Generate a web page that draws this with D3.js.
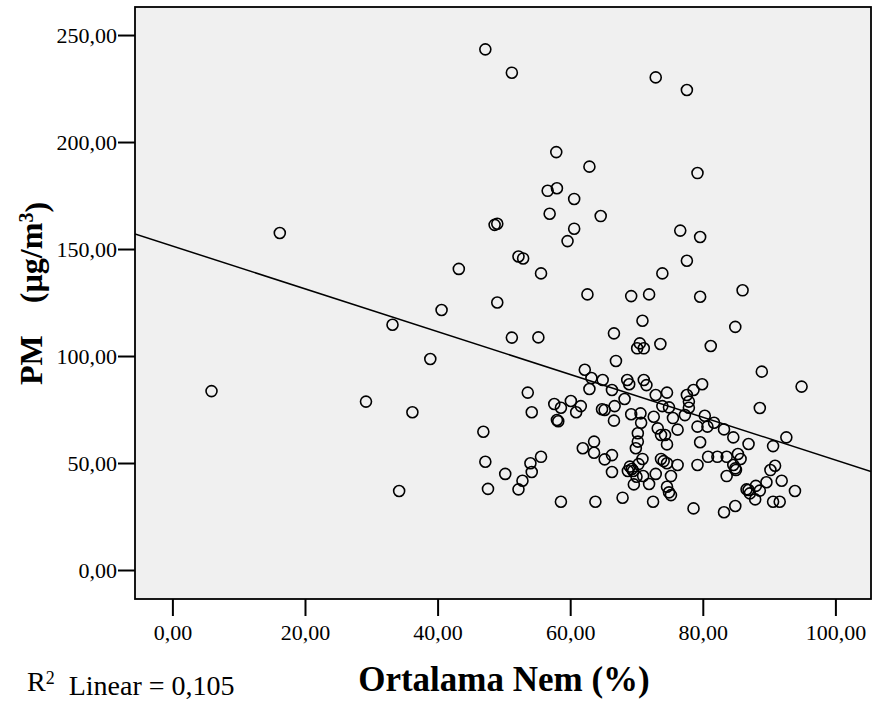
<!DOCTYPE html>
<html>
<head>
<meta charset="utf-8">
<script src="https://cdn.jsdelivr.net/npm/d3@7"></script>
<style>
  html, body { margin: 0; padding: 0; background: #ffffff; }
  svg { display: block; }
</style>
</head>
<body>
<svg id="chart" width="872" height="701"></svg>
<script>
// ---- data ----
const humidity = [
  47.2, 51.2, 16.2, 48.6, 49.0, 52.2, 52.9, 43.2, 49.0, 72.9,
  77.6, 57.9, 62.9, 79.2, 56.6, 58.0, 60.6, 56.9, 64.6, 60.6,
  59.6, 76.6, 79.6, 55.6, 77.6, 73.9, 62.6, 69.2, 71.9, 79.6,
  86.0, 33.2, 40.6, 51.2, 38.9, 5.9, 29.2, 36.2, 46.9, 47.2,
  50.2, 34.2, 47.6, 52.2, 52.8, 70.9, 84.9, 55.2, 66.6, 70.5,
  70.1, 71.1, 73.6, 81.2, 66.9, 62.2, 63.2, 64.9, 62.9, 66.3,
  68.6, 68.9, 71.1, 71.5, 88.9, 94.9, 53.6, 54.2, 57.6, 58.6,
  60.1, 61.6, 60.9, 58.0, 58.2, 64.8, 65.2, 66.7, 68.2, 66.6,
  72.9, 74.6, 73.9, 74.9, 69.2, 70.6, 70.7, 72.6, 75.5, 77.3,
  77.6, 78.6, 79.9, 77.9, 77.9, 88.6, 80.3, 81.7, 80.7, 79.2,
  83.2, 84.6, 86.9, 90.6, 92.6, 76.2, 73.2, 73.7, 74.3, 74.6,
  79.6, 70.2, 70.2, 69.9, 70.9, 70.3, 69.0, 69.3, 68.7, 69.5,
  70.0, 69.6, 71.0, 71.9, 72.9, 73.7, 74.1, 74.6, 76.2, 75.2,
  74.6, 74.9, 75.2, 72.5, 67.9, 63.8, 58.6, 78.6, 83.2, 84.9,
  79.2, 80.8, 82.2, 83.6, 85.3, 85.7, 84.6, 84.9, 85.0, 83.6,
  86.6, 87.1, 86.9, 88.0, 88.6, 87.9, 89.6, 90.6, 91.6, 91.9,
  93.9, 90.2, 90.9, 54.2, 54.0, 55.6, 61.9, 63.6, 63.6, 65.2,
  66.3, 66.3
];
const pm = [
  243.3, 232.4, 157.5, 161.3, 161.8, 146.5, 145.6, 140.7, 125.0, 230.2,
  224.3, 195.3, 188.5, 185.5, 177.2, 178.4, 173.4, 166.5, 165.4, 159.5,
  153.7, 158.6, 155.6, 138.6, 144.5, 138.6, 128.8, 128.0, 128.8, 127.7,
  130.7, 114.6, 121.5, 108.6, 98.6, 83.6, 78.7, 73.7, 64.6, 50.6,
  44.9, 36.9, 37.9, 37.7, 41.7, 116.5, 113.6, 108.7, 110.6, 105.9,
  103.6, 103.6, 105.6, 104.7, 97.7, 93.6, 89.7, 88.8, 84.6, 84.1,
  88.8, 86.8, 88.8, 86.4, 92.7, 85.7, 82.9, 73.7, 77.6, 75.8,
  79.0, 76.6, 73.7, 70.1, 69.5, 75.1, 74.8, 76.6, 79.9, 69.8,
  81.8, 82.9, 76.6, 76.0, 72.8, 73.2, 68.8, 71.6, 71.0, 72.4,
  81.8, 84.1, 86.8, 78.7, 75.8, 75.7, 72.1, 68.8, 67.0, 67.0,
  65.7, 62.0, 58.9, 57.9, 62.0, 65.6, 66.2, 63.1, 63.1, 58.7,
  59.7, 63.9, 60.0, 56.9, 51.9, 49.5, 48.3, 47.2, 46.3, 46.3,
  43.6, 40.0, 43.9, 40.2, 44.9, 51.9, 50.9, 49.9, 49.1, 43.9,
  38.9, 36.3, 35.0, 31.9, 33.8, 31.9, 31.9, 28.8, 27.0, 29.9,
  49.1, 52.9, 52.9, 52.9, 54.2, 51.9, 49.1, 47.5, 46.7, 43.9,
  37.7, 35.8, 37.4, 39.3, 37.1, 33.0, 41.0, 31.9, 31.9, 41.7,
  36.9, 46.7, 48.7, 45.8, 49.9, 52.9, 56.9, 60.0, 54.8, 51.7,
  53.7, 45.8
];
const xTicks = [0, 20, 40, 60, 80, 100];
const yTicks = [0, 50, 100, 150, 200, 250];
const xDomain = [-5.64, 105.37];
const yDomain = [-13.55, 263.1];
const fitIntercept = 151.4;
const fitSlope = -1.0;
const r2Text = "0,105";
const xTitle = "Ortalama Nem (%)";

const SERIF = '"Liberation Serif", "Times New Roman", Times, serif';

// ---- layout ----
const svg = d3.select("#chart");
const plot = { left: 135, top: 7, right: 871, bottom: 599 };

const x = d3.scaleLinear().domain(xDomain).range([plot.left, plot.right]);
const y = d3.scaleLinear().domain(yDomain).range([plot.bottom, plot.top]);
const fmt = v => d3.format(".2f")(v).replace(".", ",");

// background frame
svg.append("rect")
  .attr("x", plot.left).attr("y", plot.top)
  .attr("width", plot.right - plot.left).attr("height", plot.bottom - plot.top)
  .attr("fill", "#f0f0f0").attr("stroke", "none");

svg.append("clipPath").attr("id", "clip")
  .append("rect")
  .attr("x", plot.left).attr("y", plot.top)
  .attr("width", plot.right - plot.left).attr("height", plot.bottom - plot.top);

const g = svg.append("g").attr("clip-path", "url(#clip)");

// regression line
g.append("line")
  .attr("x1", x(xDomain[0])).attr("y1", y(fitIntercept + fitSlope * xDomain[0]))
  .attr("x2", x(xDomain[1])).attr("y2", y(fitIntercept + fitSlope * xDomain[1]))
  .attr("stroke", "#000").attr("stroke-width", 1.5);

// points
const pts = humidity.map((h, i) => ({ h, p: pm[i] }));
g.selectAll("circle").data(pts).enter().append("circle")
  .attr("cx", d => x(d.h)).attr("cy", d => y(d.p))
  .attr("r", 5.5)
  .attr("fill", "none").attr("stroke", "#000").attr("stroke-width", 1.6);

// frame border
svg.append("rect")
  .attr("x", plot.left).attr("y", plot.top)
  .attr("width", plot.right - plot.left).attr("height", plot.bottom - plot.top)
  .attr("fill", "none").attr("stroke", "#000").attr("stroke-width", 1.8);

// axes
const yAxis = svg.append("g").attr("transform", `translate(${plot.left},0)`)
  .call(d3.axisLeft(y).tickValues(yTicks).tickFormat(fmt).tickSize(17).tickPadding(1));
const xAxis = svg.append("g").attr("transform", `translate(0,${plot.bottom})`)
  .call(d3.axisBottom(x).tickValues(xTicks).tickFormat(fmt).tickSize(17).tickPadding(4));
[yAxis, xAxis].forEach(a => {
  a.attr("font-family", SERIF).attr("font-size", 22);
  a.select(".domain").remove();
  a.selectAll(".tick line").attr("stroke", "#000").attr("stroke-width", 2);
  a.selectAll(".tick text").attr("fill", "#000");
});
yAxis.selectAll(".tick text").attr("dy", "0.34em");
xAxis.selectAll(".tick text").attr("dy", "0.9em");

// x title
svg.append("text")
  .attr("x", 504).attr("y", 691)
  .attr("text-anchor", "middle")
  .attr("font-family", SERIF)
  .attr("font-size", 35).attr("font-weight", "bold")
  .attr("fill", "#000")
  .text(xTitle);

// y title
const yt = svg.append("text")
  .attr("transform", "translate(42,385) rotate(-90)")
  .attr("text-anchor", "start")
  .attr("font-family", SERIF)
  .attr("font-size", 32).attr("font-weight", "bold")
  .attr("fill", "#000")
  .style("white-space", "pre");
yt.append("tspan").text("PM    (µg/m");
yt.append("tspan").attr("dy", "-0.45em").attr("font-size", 20).text("3");
yt.append("tspan").attr("dy", "0.45em").text(")");

// R² label
const r2 = svg.append("text")
  .attr("x", 27).attr("y", 691)
  .attr("font-family", SERIF)
  .attr("font-size", 28)
  .attr("fill", "#000")
  .style("white-space", "pre");
r2.append("tspan").text("R");
r2.append("tspan").attr("dy", "-0.4em").attr("font-size", 18).text("2");
r2.append("tspan").attr("dy", "0.4em").text("  Linear = " + r2Text);
</script>
</body>
</html>
